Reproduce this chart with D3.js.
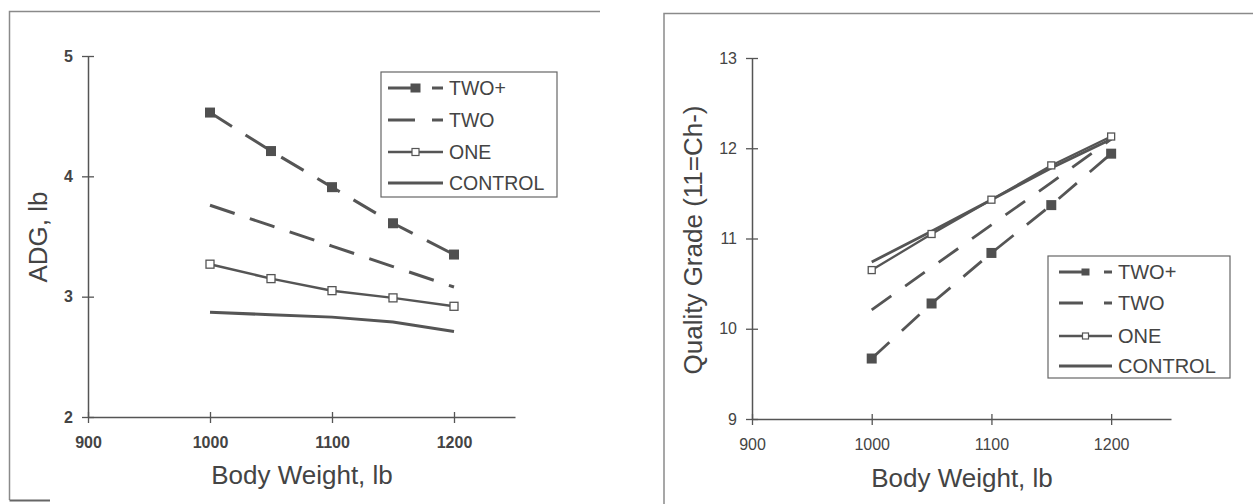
<!DOCTYPE html>
<html>
<head>
<meta charset="utf-8">
<script src="https://cdn.jsdelivr.net/npm/d3@7"></script>
<style>
  body { margin: 0; background: #fff; }
  text { font-family: Arial, "Liberation Sans", sans-serif; fill: #444; }
</style>
</head>
<body>
<svg id="chart" width="1253" height="504"></svg>
<script>
// body weights on the x axis
let weights = [1000, 1050, 1100, 1150, 1200];
let xTicks = [900, 1000, 1100, 1200];
let seriesNames = ['TWO+', 'TWO', 'ONE', 'CONTROL'];

// left panel: ADG, lb
let adgTwoPlus = [4.53, 4.21, 3.91, 3.61, 3.35];
let adgTwo = [3.76, 3.59, 3.42, 3.25, 3.08];
let adgOne = [3.27, 3.15, 3.05, 2.99, 2.92];
let adgControl = [2.87, 2.85, 2.83, 2.79, 2.71];
let adgTicks = [2, 3, 4, 5];

// right panel: quality grade
let qgTwoPlus = [9.67, 10.28, 10.84, 11.37, 11.94];
let qgTwo = [10.21, 10.68, 11.15, 11.62, 12.10];
let qgOne = [10.65, 11.05, 11.43, 11.81, 12.13];
let qgControl = [10.74, 11.08, 11.43, 11.78, 12.10];
let qgTicks = [9, 10, 11, 12, 13];

let lineColor = '#555';
let svg = d3.select('#chart');

// faint scanned page frames
svg.append('path').attr('d', 'M9.5,500 L9.5,11.5 L600,11.5')
  .attr('fill', 'none').attr('stroke', '#8a8a8a').attr('stroke-width', 1.5);
svg.append('path').attr('d', 'M9.5,500.5 L50,500.5')
  .attr('fill', 'none').attr('stroke', '#666').attr('stroke-width', 2);
svg.append('path').attr('d', 'M664,504 L664,13.5 L1253,13.5')
  .attr('fill', 'none').attr('stroke', '#8a8a8a').attr('stroke-width', 1.5);

function drawPanel(cfg) {
  let g = svg.append('g');
  let x = d3.scaleLinear().domain([900, 1250]).range(cfg.xRange);
  let y = d3.scaleLinear().domain(cfg.yDomain).range(cfg.yRange);
  let fmt = d3.format('d');

  // axes
  let yAxis = g.append('g')
    .attr('transform', 'translate(' + cfg.xRange[0] + ',0)')
    .call(d3.axisLeft(y).tickValues(cfg.yTicks).tickFormat(fmt).tickSizeOuter(0).tickSizeInner(6));
  let xAxis = g.append('g')
    .attr('transform', 'translate(0,' + cfg.yRange[0] + ')')
    .call(d3.axisBottom(x).tickValues(xTicks).tickFormat(fmt).tickSizeOuter(0).tickSizeInner(6));

  [xAxis, yAxis].forEach(function(ax) {
    ax.attr('font-size', 16).attr('font-family', 'Arial, "Liberation Sans", sans-serif');
    ax.select('.domain').attr('stroke', '#555').attr('stroke-width', 1.5);
    ax.selectAll('.tick line').attr('stroke', '#555').attr('stroke-width', 1.3);
    ax.selectAll('.tick text')
      .attr('font-weight', cfg.bold ? 'bold' : 'normal')
      .attr('fill', '#404040');
  });
  yAxis.selectAll('.tick line').attr('x1', -6).attr('x2', 6);
  yAxis.selectAll('.tick text').attr('x', -15);
  xAxis.selectAll('.tick line').attr('y1', -5).attr('y2', 6);
  xAxis.selectAll('.tick text').attr('y', cfg.tickLabelY).attr('dy', 0);

  // axis titles
  g.append('text')
    .attr('x', cfg.xTitle[0]).attr('y', cfg.xTitle[1])
    .attr('text-anchor', 'middle')
    .style('font-size', '26px')
    .text('Body Weight, lb');
  g.append('text')
    .attr('transform', 'translate(' + cfg.yTitle[0] + ',' + cfg.yTitle[1] + ') rotate(-90)')
    .attr('text-anchor', 'middle')
    .attr('dy', '0.35em')
    .style('font-size', '26px')
    .text(cfg.yLabel);

  let line = d3.line()
    .x(function(d, i) { return x(weights[i]); })
    .y(function(d) { return y(d); });

  // series lines
  g.append('path').datum(cfg.control).attr('d', line)
    .attr('fill', 'none').attr('stroke', lineColor).attr('stroke-width', cfg.lw);
  g.append('path').datum(cfg.one).attr('d', line)
    .attr('fill', 'none').attr('stroke', lineColor).attr('stroke-width', cfg.lw - 0.5);
  g.append('path').datum(cfg.two).attr('d', line)
    .attr('fill', 'none').attr('stroke', lineColor).attr('stroke-width', cfg.lw)
    .attr('stroke-dasharray', cfg.dash);
  g.append('path').datum(cfg.twoPlus).attr('d', line)
    .attr('fill', 'none').attr('stroke', lineColor).attr('stroke-width', cfg.lw)
    .attr('stroke-dasharray', cfg.dash);

  // markers
  let s = cfg.fillSize;
  g.selectAll('.fillMark').data(cfg.twoPlus).enter().append('rect')
    .attr('class', 'fillMark')
    .attr('x', function(d, i) { return x(weights[i]) - s / 2; })
    .attr('y', function(d) { return y(d) - s / 2; })
    .attr('width', s).attr('height', s)
    .attr('fill', '#505050');
  let o = cfg.openSize;
  g.selectAll('.openMark').data(cfg.one).enter().append('rect')
    .attr('class', 'openMark')
    .attr('x', function(d, i) { return x(weights[i]) - o / 2; })
    .attr('y', function(d) { return y(d) - o / 2; })
    .attr('width', o).attr('height', o)
    .attr('fill', '#fff').attr('stroke', '#555').attr('stroke-width', 1.3);

  // legend
  let lg = cfg.legend;
  g.append('rect')
    .attr('x', lg.box[0]).attr('y', lg.box[1])
    .attr('width', lg.box[2] - lg.box[0]).attr('height', lg.box[3] - lg.box[1])
    .attr('fill', '#fff').attr('stroke', '#666').attr('stroke-width', 1.2);

  let x0 = lg.sample[0], x1 = lg.sample[1], xm = (x0 + x1) / 2;
  seriesNames.forEach(function(name, i) {
    let ry = lg.rows[i];
    let seg = g.append('line')
      .attr('x1', x0).attr('x2', x1).attr('y1', ry).attr('y2', ry)
      .attr('stroke', lineColor).attr('stroke-width', cfg.lw);
    if (name === 'TWO+' || name === 'TWO') seg.attr('stroke-dasharray', lg.dash);
    if (name === 'TWO+') {
      g.append('rect').attr('x', xm - lg.fill / 2).attr('y', ry - lg.fill / 2 + 0.5)
        .attr('width', lg.fill).attr('height', lg.fill - 1).attr('fill', '#505050');
    }
    if (name === 'ONE') {
      seg.attr('stroke-width', cfg.lw - 0.5);
      g.append('rect').attr('x', xm - lg.open / 2).attr('y', ry - lg.open / 2)
        .attr('width', lg.open).attr('height', lg.open)
        .attr('fill', '#fff').attr('stroke', '#555').attr('stroke-width', 1.2);
    }
    g.append('text')
      .attr('x', lg.textX).attr('y', ry)
      .attr('dy', '0.36em')
      .style('font-size', lg.font)
      .text(name);
  });
}

drawPanel({
  xRange: [88, 515],
  yDomain: [2, 5],
  yRange: [417, 56],
  yTicks: adgTicks,
  bold: true,
  tickLabelY: 31,
  xTitle: [302, 484],
  yTitle: [38, 237],
  yLabel: 'ADG, lb',
  twoPlus: adgTwoPlus, two: adgTwo, one: adgOne, control: adgControl,
  lw: 3,
  dash: '26,16',
  fillSize: 10,
  openSize: 8,
  legend: {
    box: [381, 72, 557, 197],
    sample: [388, 443],
    rows: [88, 120, 152, 183],
    textX: 449,
    font: '19.5px',
    dash: '27,17',
    fill: 10,
    open: 7
  }
});

drawPanel({
  xRange: [752, 1171],
  yDomain: [9, 13],
  yRange: [419, 58],
  yTicks: qgTicks,
  bold: false,
  tickLabelY: 31,
  xTitle: [962, 487],
  yTitle: [693, 240],
  yLabel: 'Quality Grade (11=Ch-)',
  twoPlus: qgTwoPlus, two: qgTwo, one: qgOne, control: qgControl,
  lw: 2.8,
  dash: '24,17',
  fillSize: 10,
  openSize: 7,
  legend: {
    box: [1048, 256, 1230, 378],
    sample: [1059, 1112],
    rows: [272, 303, 336, 366],
    textX: 1118,
    font: '20px',
    dash: '24,21',
    fill: 8,
    open: 6
  }
});
</script>
</body>
</html>
